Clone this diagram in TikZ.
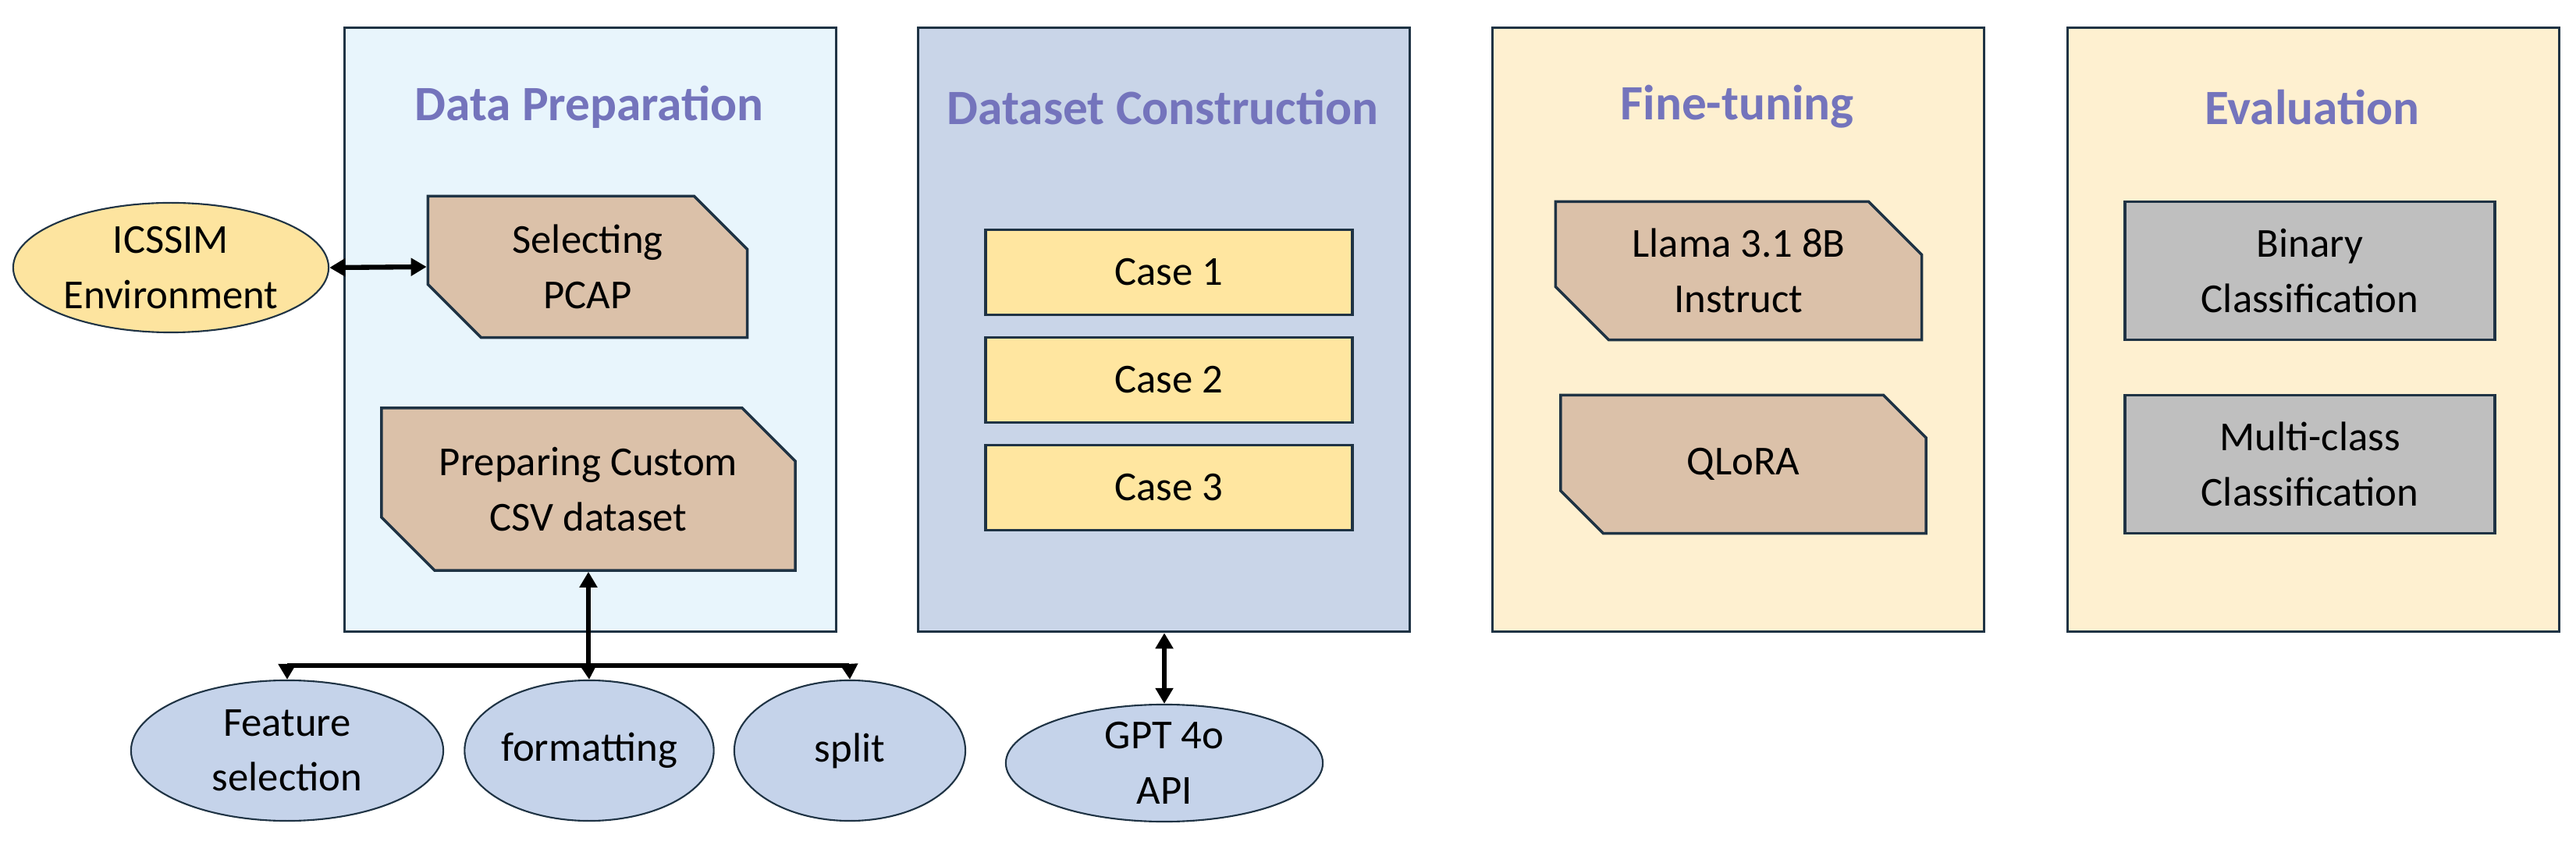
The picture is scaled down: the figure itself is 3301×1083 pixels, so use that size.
\documentclass[tikz,border=0pt]{standalone}
\usepackage{fontspec}
\setmainfont{Carlito}
\usetikzlibrary{shapes.misc,shapes.geometric,arrows.meta}
\definecolor{pA}{HTML}{E8F5FC}
\definecolor{pB}{HTML}{C9D5E8}
\definecolor{pC}{HTML}{FEF0D0}
\definecolor{ttl}{HTML}{7474BC}
\definecolor{brn}{HTML}{DBC1A9}
\definecolor{cse}{HTML}{FFE6A0}
\definecolor{gry}{HTML}{BFBFBF}
\definecolor{ell}{HTML}{C5D3EA}
\definecolor{ylw}{HTML}{FDE49F}
\definecolor{edge}{HTML}{1F3344}
\begin{document}
\begin{tikzpicture}[x=0.01cm,y=-0.01cm,
  panel/.style={draw=edge,line width=0.8pt,minimum width=6.3cm,minimum height=7.74cm,anchor=north west},
  title/.style={text=ttl,font=\fontsize{18}{20}\selectfont\bfseries},
  txt/.style={font=\fontsize{15}{20}\selectfont,align=center},
  snip/.style={txt,chamfered rectangle,chamfered rectangle corners={north east,south west},chamfered rectangle xsep=0.34cm,chamfered rectangle ysep=0.34cm,draw=edge,line width=1pt,fill=brn,inner sep=0pt},
  box/.style={txt,rectangle,draw=edge,line width=1pt,inner sep=0pt},
  ov/.style={txt,ellipse,draw=edge,line width=0.6pt,inner sep=0pt},
  arr/.style={line width=1.8pt,-{Triangle[length=0.2cm,width=0.22cm]}},
  darr/.style={line width=1.8pt,{Triangle[length=0.2cm,width=0.22cm]}-{Triangle[length=0.2cm,width=0.22cm]}}]
\useasboundingbox (0,0) rectangle (3301,1083);
\node[panel,fill=pA] (p1) at (440,34) {};
\node[panel,fill=pB] (p2) at (1175,34) {};
\node[panel,fill=pC] (p3) at (1911,34) {};
\node[panel,fill=pC] (p4) at (2648,34) {};
\node[title] (t1) at (755,137) {Data Preparation};
\node[title] (t2) at (1490,137) {Dataset Construction};
\node[title] (t3) at (2226,137) {Fine-tuning};
\node[title] (t4) at (2963,137) {Evaluation};
\node[snip,minimum width=4.09cm,minimum height=1.81cm] (sel) at (753,342) {Selecting\\PCAP};
\node[snip,minimum width=5.30cm,minimum height=2.08cm] (prep) at (754,627) {Preparing Custom\\CSV dataset};
\node[snip,minimum width=4.69cm,minimum height=1.77cm] (llama) at (2228,347) {Llama 3.1 8B\\Instruct};
\node[snip,minimum width=4.68cm,minimum height=1.77cm] (qlora) at (2234,595) {QLoRA};
\node[box,fill=gry,minimum width=4.74cm,minimum height=1.77cm] (bin) at (2960,347) {Binary\\Classification};
\node[box,fill=gry,minimum width=4.74cm,minimum height=1.77cm] (multi) at (2960,595) {Multi-class\\Classification};
\node[box,fill=cse,minimum width=4.70cm,minimum height=1.09cm] (c1) at (1498,349) {Case 1};
\node[box,fill=cse,minimum width=4.70cm,minimum height=1.09cm] (c2) at (1498,487) {Case 2};
\node[box,fill=cse,minimum width=4.70cm,minimum height=1.09cm] (c3) at (1498,625) {Case 3};
\node[ov,fill=ylw,minimum width=4.04cm,minimum height=1.66cm] (ics) at (219,343) {ICSSIM\\Environment};
\node[ov,fill=ell,minimum width=4.0cm,minimum height=1.8cm] (fs) at (368,962) {Feature\\selection};
\node[ov,fill=ell,minimum width=3.0cm,minimum height=1.8cm] (fmt) at (755,962) {formatting};
\node[ov,fill=ell,minimum width=2.96cm,minimum height=1.8cm] (spl) at (1089,962) {split};
\node[ov,fill=ell,minimum width=4.06cm,minimum height=1.5cm] (gpt) at (1492,978) {GPT 4o\\API};
\draw[darr] (ics.east) -- (sel.west);
\coordinate (j) at (754,853);
\coordinate (jl) at (368,853);
\coordinate (jr) at (1088,853);
\draw[arr] (j) -- (prep.south);
\draw[line width=1.8pt] (jl) -- (jr);
\draw[arr] (jl) -- (fs.north);
\draw[arr] (j) -- (fmt.north);
\draw[arr] (jr) -- (spl.north);
\draw[darr] (p2.south -| gpt.north) -- (gpt.north);
\end{tikzpicture}
\end{document}
